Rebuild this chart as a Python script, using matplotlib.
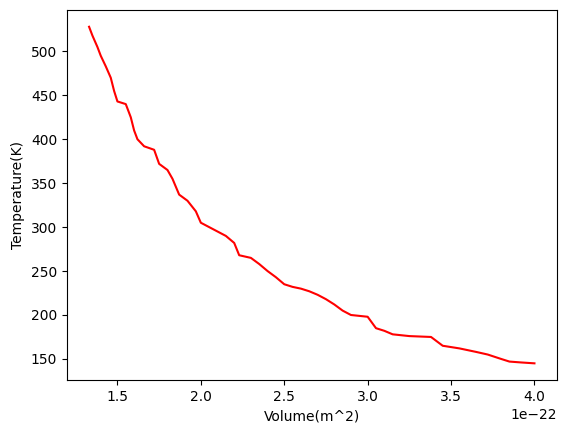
import matplotlib
matplotlib.use("Agg")
import matplotlib.pyplot as plt
import numpy as np

volume = [1.33,1.35,1.38,1.40,1.43,1.46,1.48,1.50,1.55,1.58,1.60,1.62,1.66,1.72,1.75,1.80,1.83,1.87,1.92,1.97,2.00,2.05,2.10,2.15,2.20,2.23,2.30,2.35,2.40,2.45,2.50,2.55,2.60,2.65,2.70,2.75,2.80,2.85,2.90,3.00,3.05,3.10,3.15,3.25,3.38,3.45,3.55,3.65,3.72,3.80,3.85,3.92,4.00]
temperature = [528,518,505,495,483,470,455,443,440,425,410,400,392,388,372,365,355,337,330,318,305,300,295,290,282,268,265,258,250,243,235,232,230,227,223,218,212,205,200,198,185,182,178,176,175,165,162,158,155,150,147,146,145]

fig, ax = plt.subplots(figsize=(5.71, 4.32), dpi=100)
ax.plot(np.array(volume) * 1e-22, temperature, color='red')
ax.set_xlabel('Volume(m^2)')
ax.set_ylabel('Temperature(K)')
fig.subplots_adjust(left=0.117, right=0.975, bottom=0.12, top=0.977)
fig.savefig('out.png')
